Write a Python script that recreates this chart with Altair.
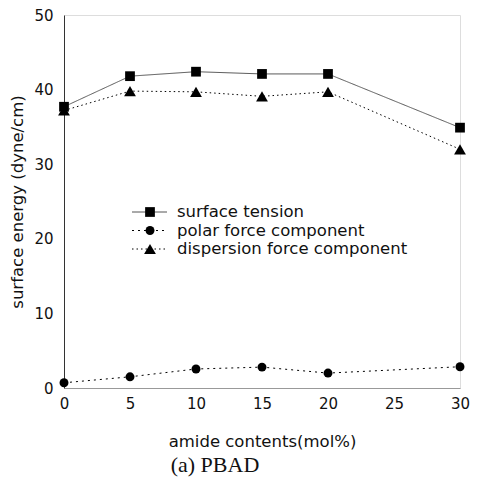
import altair as alt
import pandas as pd

series = ["surface tension", "polar force component", "dispersion force component"]
amide = [0, 5, 10, 15, 20, 30]
surface_tension = [37.7, 41.8, 42.4, 42.1, 42.1, 34.9]
polar = [0.7, 1.5, 2.55, 2.8, 2.0, 2.85]
dispersion = [37.2, 39.8, 39.7, 39.1, 39.7, 32.0]
x_ticks = [0, 5, 10, 15, 20, 25, 30]
y_ticks = [0, 10, 20, 30, 40, 50]

rows = []
for name, vals in zip(series, [surface_tension, polar, dispersion]):
    for a, v in zip(amide, vals):
        rows.append({"series": name, "amide": a, "value": v})
df = pd.DataFrame(rows)
leg = pd.DataFrame({"series": series})

FONT = "DejaVu Sans"
shapes = ["square", "circle", "triangle-up"]
sizes = [95, 80, 140]
dash_scale = alt.Scale(domain=series, range=[[1, 0], [2, 4], [1.5, 3]])
color_scale = alt.Scale(domain=series, range=["#555555", "#000000", "#000000"])

x_enc = alt.X("amide:Q", scale=alt.Scale(domain=[0, 30], nice=False),
              axis=alt.Axis(values=x_ticks, title="amide contents(mol%)", grid=False,
                            ticks=False, labelPadding=8, titlePadding=22, labelFlush=False,
                            domainColor="#999999", labelFontSize=15, titleFontSize=16.5,
                            labelFont=FONT, titleFont=FONT, titleFontWeight="normal",
                            labelColor="#111", titleColor="#111"))
y_enc = alt.Y("value:Q", scale=alt.Scale(domain=[0, 50], nice=False),
              axis=alt.Axis(values=y_ticks, title="surface energy (dyne/cm)", grid=False,
                            ticks=False, labelPadding=11, titlePadding=8,
                            domainColor="#333333", labelFontSize=15, titleFontSize=16.5,
                            labelFont=FONT, titleFont=FONT, titleFontWeight="normal",
                            labelColor="#111", titleColor="#111"))

lines = alt.Chart(df).mark_line(strokeWidth=1).encode(
    x=x_enc, y=y_enc,
    strokeDash=alt.StrokeDash("series:N", scale=dash_scale, legend=None),
    color=alt.Color("series:N", scale=color_scale, legend=None),
    detail="series:N",
)
point_layers = []
for name, shp, sz in zip(series, shapes, sizes):
    point_layers.append(
        alt.Chart(df).transform_filter(alt.datum.series == name)
        .mark_point(filled=True, opacity=1, color="black", shape=shp, size=sz)
        .encode(x=alt.X("amide:Q"), y=alt.Y("value:Q"))
    )

ly = alt.Y("series:N", scale=alt.Scale(type="point", domain=series, range=[197, 234], padding=0), axis=None)
leg_rule = alt.Chart(leg).mark_rule(strokeWidth=1).encode(
    x=alt.value(68), x2=alt.value(103), y=ly,
    strokeDash=alt.StrokeDash("series:N", scale=dash_scale, legend=None),
    color=alt.Color("series:N", scale=color_scale, legend=None),
)
leg_pts = []
for name, shp, sz in zip(series, shapes, sizes):
    leg_pts.append(
        alt.Chart(leg).transform_filter(alt.datum.series == name)
        .mark_point(filled=True, opacity=1, color="black", shape=shp, size=sz)
        .encode(x=alt.value(86), y=ly)
    )
leg_txt = alt.Chart(leg).mark_text(align="left", baseline="middle", font=FONT,
                                   fontSize=16.5, color="#111").encode(
    x=alt.value(113), y=ly, text="series:N",
)

main = alt.layer(lines, *point_layers)
legend = alt.layer(leg_rule, *leg_pts, leg_txt)

chart = alt.layer(main, legend).resolve_scale(y="independent").properties(
    width=396, height=373,
    autosize=alt.AutoSizeParams(type="none"),
    padding={"left": 56, "top": 7, "right": 13, "bottom": 90},
    title=alt.TitleParams("(a) PBAD", orient="bottom", anchor="middle", dx=-47,
                          offset=5, font="Liberation Serif", fontSize=22,
                          fontWeight="normal", color="#111"),
).configure_view(stroke="#777777", strokeWidth=1).configure(background="white")

chart.save("out.html", embed_options={"renderer": "svg", "actions": False})
